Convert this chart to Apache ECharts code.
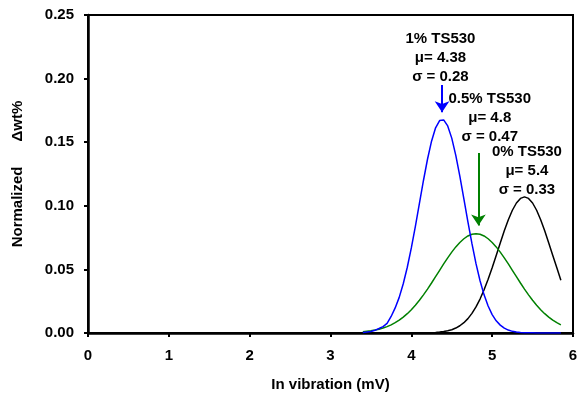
<!DOCTYPE html>
<html><head><meta charset="utf-8">
<script src="https://cdn.jsdelivr.net/npm/echarts@6/dist/echarts.min.js"></script>
<style>html,body{margin:0;padding:0;background:#fff}#c{width:577px;height:393px}</style>
</head><body><div id="c"></div>
<script>
const xVals = [3.40,3.45,3.50,3.55,3.60,3.65,3.70,3.75,3.80,3.85,3.90,3.95,4.00,4.05,4.10,4.15,4.20,4.25,4.30,4.35,4.40,4.45,4.50,4.55,4.60,4.65,4.70,4.75,4.80,4.85,4.90,4.95,5.00,5.05,5.10,5.15,5.20,5.25,5.30,5.35,5.40,5.45,5.50,5.55,5.60,5.65,5.70,5.75,5.80,5.85];
const blueVals = [0.0004,0.0007,0.0012,0.0021,0.0035,0.0050,0.0075,0.0130,0.0197,0.0280,0.0387,0.0517,0.0669,0.0839,0.1019,0.1199,0.1366,0.1508,0.1613,0.1670,0.1675,0.1628,0.1532,0.1397,0.1234,0.1055,0.0874,0.0702,0.0545,0.0411,0.0300,0.0212,0.0145,0.0096,0.0062,0.0038,0.0023,0.0013,0.0008,0.0004,0.0002,0.0001,0.0001,0,0,0,0,0,0,0];
const greenVals = [0.0009,0.0013,0.0017,0.0023,0.0030,0.0039,0.0050,0.0064,0.0081,0.0101,0.0125,0.0152,0.0183,0.0218,0.0257,0.0300,0.0345,0.0393,0.0443,0.0493,0.0543,0.0591,0.0636,0.0677,0.0712,0.0741,0.0763,0.0776,0.0780,0.0776,0.0763,0.0741,0.0712,0.0677,0.0636,0.0591,0.0543,0.0493,0.0443,0.0393,0.0345,0.0300,0.0257,0.0218,0.0183,0.0152,0.0125,0.0101,0.0081,0.0064];
const blackVals = [0,0,0,0,0,0,0,0,0,0,0,0,0,0,0,0.0001,0.0001,0.0002,0.0004,0.0007,0.0011,0.0017,0.0026,0.0039,0.0057,0.0081,0.0113,0.0154,0.0205,0.0267,0.0340,0.0422,0.0513,0.0610,0.0708,0.0803,0.0890,0.0965,0.1022,0.1058,0.1070,0.1058,0.1022,0.0965,0.0890,0.0803,0.0708,0.0610,0.0513,0.0415];
const seriesNames = ['1% TS530','0.5% TS530','0% TS530'];
const labels = [
  ['1% TS530','μ= 4.38','σ = 0.28'],
  ['0.5% TS530','μ= 4.8','σ = 0.47'],
  ['0% TS530','μ= 5.4','σ = 0.33']
];
const labelPos = [[4.36,0.2165],[4.97,0.1695],[5.43,0.1275]];
const arrows = [[[4.38,0.195],[4.38,0.1735]],[[4.83,0.1415],[4.83,0.0845]],null];
const colors = ['#0000ff','#008000','#000000'];
const valsList = [blueVals, greenVals, blackVals];

const font = {fontFamily:'Liberation Sans, Arial, sans-serif', fontWeight:'bold', fontSize:15, color:'#000'};
const chart = echarts.init(document.getElementById('c'), null, {renderer:'canvas'});
const series = valsList.map((vals,i)=>{
  const s = {
    name: seriesNames[i], type:'line', symbol:'none', smooth:false,
    data: xVals.map((x,j)=>[x, vals[j]]),
    lineStyle:{color:colors[i], width:1.5},
    itemStyle:{color:colors[i]},
    z: 3-i,
    markPoint:{
      symbol:'circle', symbolSize:0, silent:true,
      data:[{coord:labelPos[i], value:0}],
      label:{show:true, position:'inside', formatter: labels[i].join('\n'),
        fontFamily:font.fontFamily, fontWeight:'bold', fontSize:15, color:'#000', lineHeight:19, align:'center'}
    }
  };
  if (arrows[i]) {
    s.markLine = {
      silent:true, symbol:['none','arrow'], symbolSize:11,
      lineStyle:{color:colors[i], width:2, type:'solid'},
      itemStyle:{color:colors[i]},
      label:{show:false},
      emphasis:{disabled:true},
      data:[[{coord:arrows[i][0], symbol:'none'},{coord:arrows[i][1], symbol:'arrow', symbolSize:11}]]
    };
  }
  return s;
});
chart.setOption({
  animation:false,
  backgroundColor:'#fff',
  grid:{left:88, right:4, top:15, bottom:60, containLabel:false, outerBoundsMode:'none',
    show:true, borderColor:'#000', borderWidth:2, backgroundColor:'transparent'},
  xAxis:{type:'value', min:0, max:6, interval:1,
    name:'In vibration (mV)', nameLocation:'middle', nameGap:44,
    nameTextStyle:{...font},
    axisLine:{show:true, onZero:false, lineStyle:{color:'#000', width:2.5}},
    axisTick:{show:true, length:4, lineStyle:{color:'#000', width:2}},
    axisLabel:{...font, margin:15},
    splitLine:{show:false}},
  yAxis:{type:'value', min:0, max:0.25, interval:0.05,
    name:'Normalized      Δwt%', nameLocation:'middle', nameGap:63,
    nameTextStyle:{...font},
    axisLine:{show:true, lineStyle:{color:'#000', width:2.5}},
    axisTick:{show:true, length:4, lineStyle:{color:'#000', width:2}},
    axisLabel:{...font, margin:14, formatter:v=>v.toFixed(2)},
    splitLine:{show:false}},
  series
});
</script></body></html>
